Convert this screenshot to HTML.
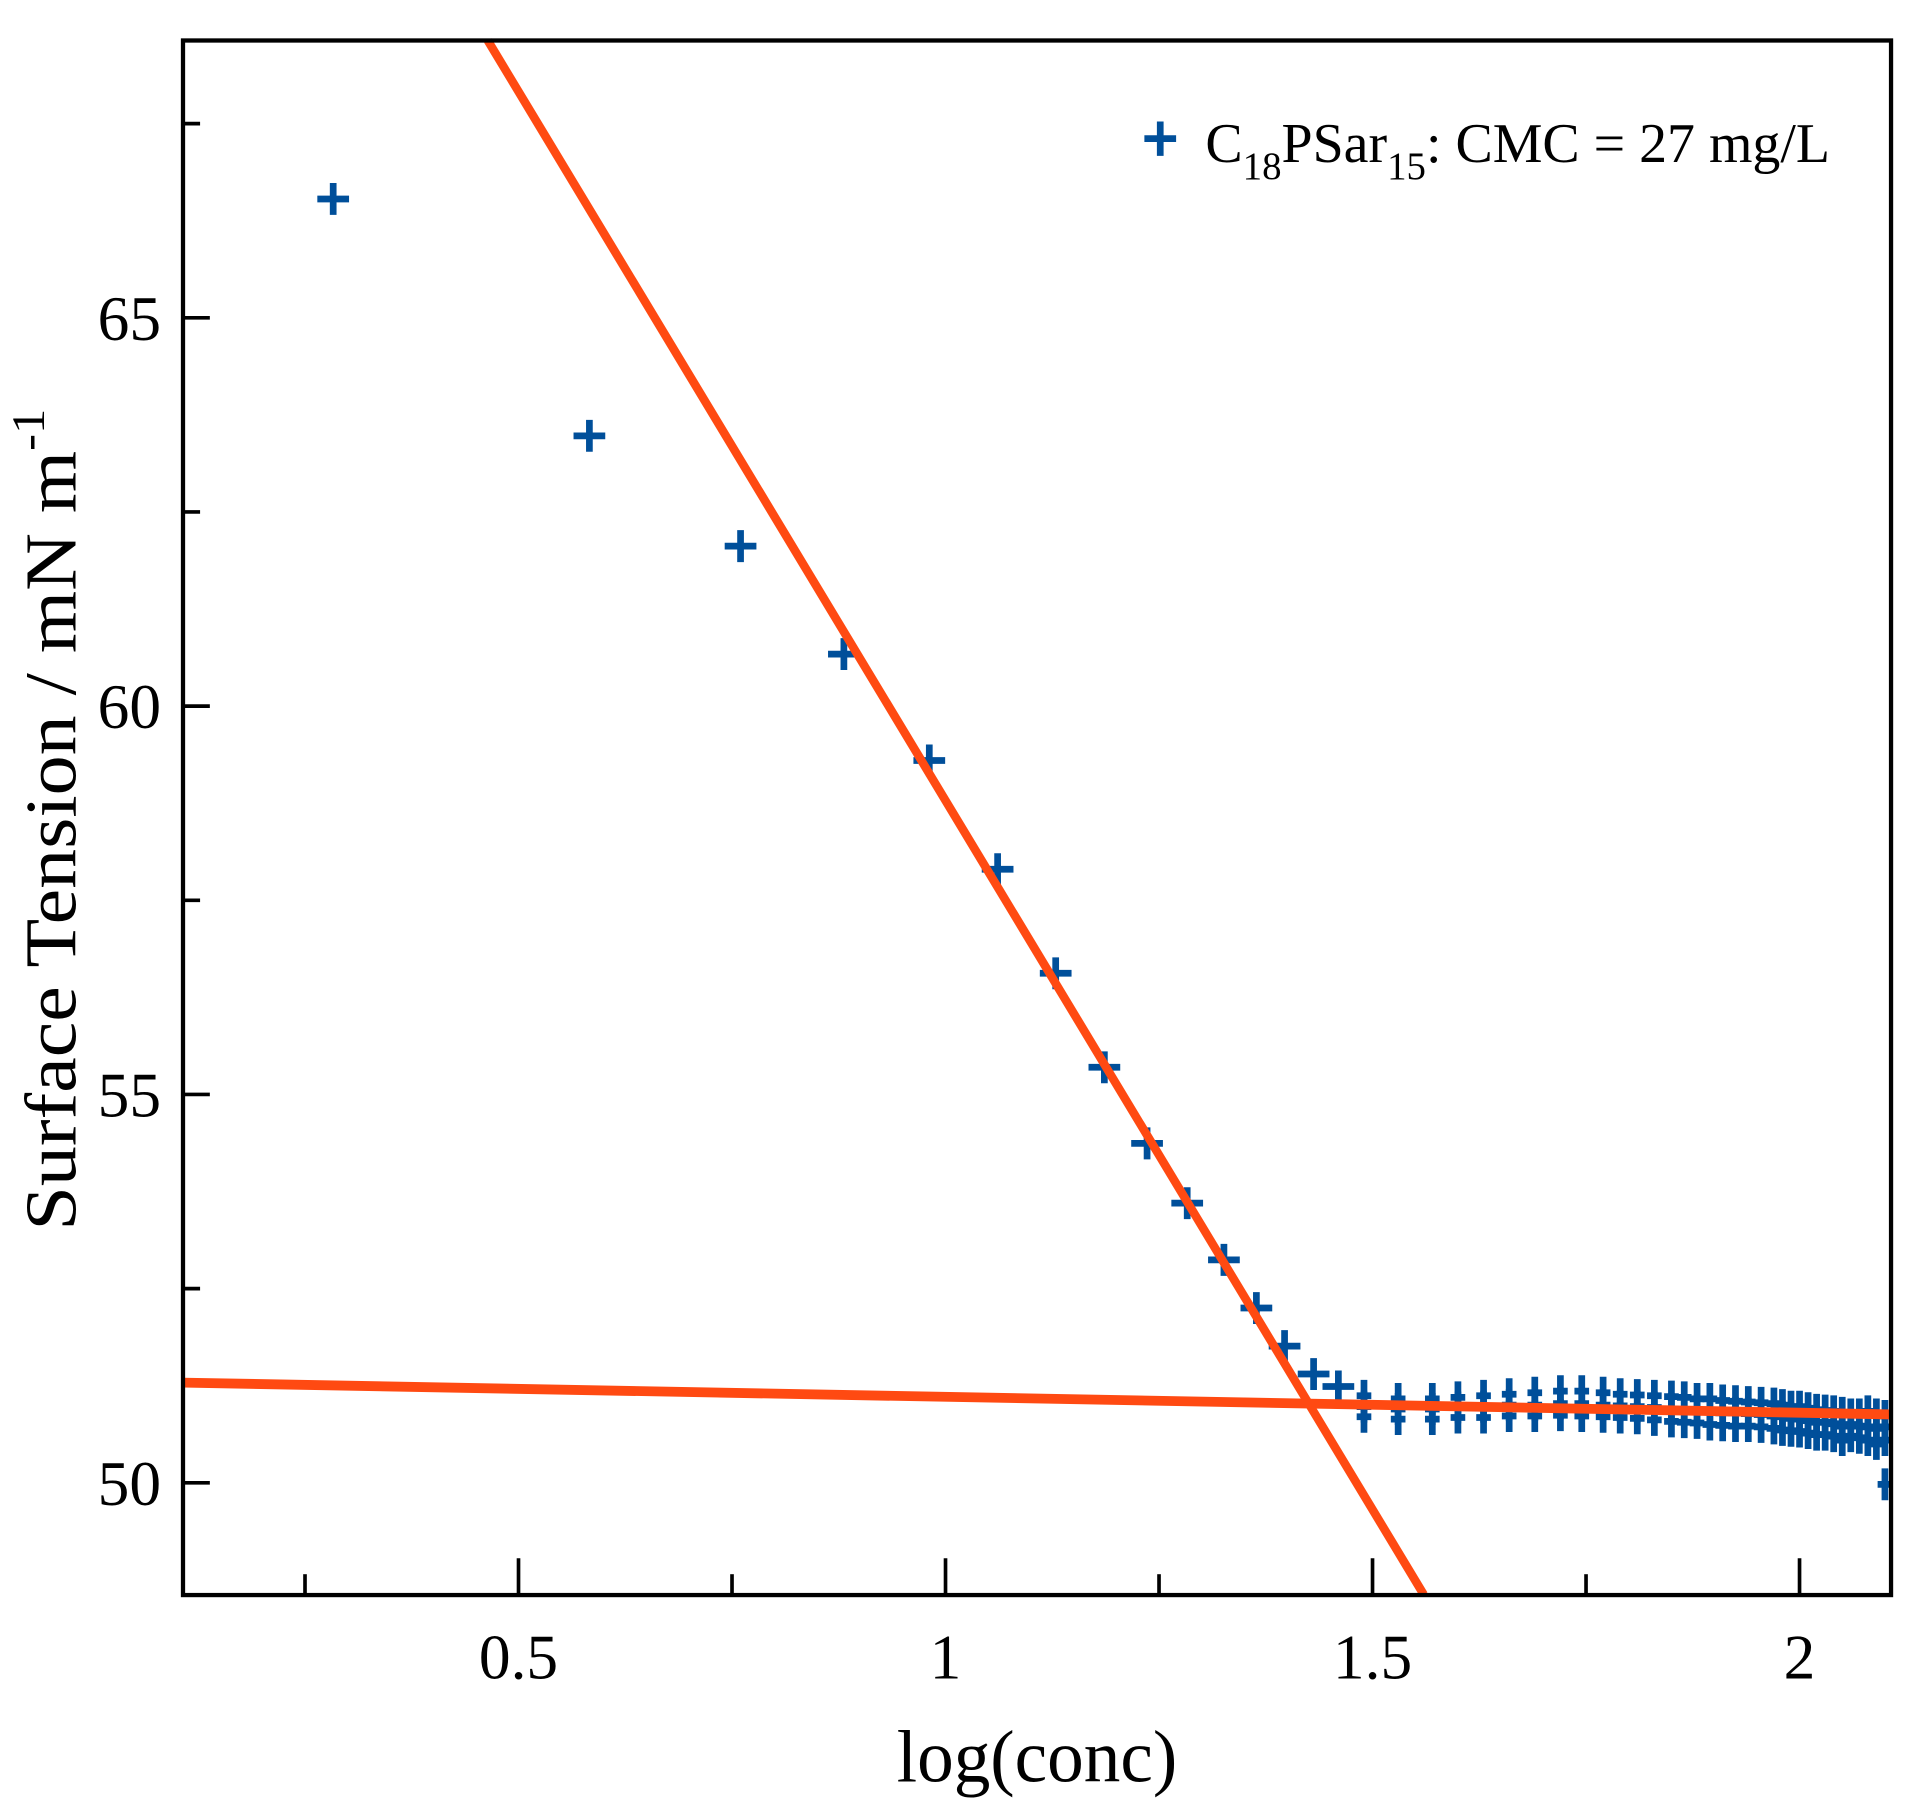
<!DOCTYPE html>
<html><head><meta charset="utf-8"><style>
html,body{margin:0;padding:0;background:#fff;}
svg{display:block;}
text{font-family:"Liberation Serif",serif;fill:#000;}
</style></head><body>
<svg id="chart" width="1913" height="1811" viewBox="0 0 1568 1476" preserveAspectRatio="none" xmlns="http://www.w3.org/2000/svg">
<rect width="1568" height="1476" fill="#fff"/>
<g id="ticks"></g>
<g id="points"></g>
<g id="fits"></g>
<rect x="150" y="33" width="1400" height="1267" fill="none" stroke="#000" stroke-width="3.5"/>
<g id="labels"></g>
<text x="850" y="1452" font-size="60" text-anchor="middle">log(conc)</text>
<text transform="translate(62,668) rotate(-90)" font-size="60" text-anchor="middle" textLength="670" lengthAdjust="spacingAndGlyphs">Surface Tension / mN m<tspan dy="-26" font-size="38">-1</tspan></text>
<g>
<path d="M938 113 H964 M951 99 V127" stroke="#004f9a" stroke-width="5.5"/>
<text x="988" y="132" font-size="46" textLength="512" lengthAdjust="spacingAndGlyphs">C<tspan dy="14" font-size="32">18</tspan><tspan dy="-14">PSar</tspan><tspan dy="14" font-size="32">15</tspan><tspan dy="-14">: CMC = 27 mg/L</tspan></text>
</g>
</svg>
<script>
const xTicksMajor=[0.5,1,1.5,2];
const xTickLabels=["0.5","1","1.5","2"];
const xTicksMinor=[0.25,0.75,1.25,1.75];
const yTicksMajor=[50,55,60,65];
const yTickLabels=["50","55","60","65"];
const yTicksMinor=[52.5,57.5,62.5,67.5];
const pointX=[0.283,0.583,0.76,0.881,0.981,1.061,1.129,1.186,1.236,1.283,1.326,1.364,1.397,1.431,1.46,
1.49,1.53,1.57,1.60,1.63,1.66,1.69,1.72,1.745,1.77,1.79,1.81,1.83,1.85,1.865,1.88,1.895,1.91,1.925,1.94,1.955,1.97,1.98,1.99,2.0,2.01,2.02,2.03,2.04,2.05,2.06,2.07,2.08,2.09,2.1,
1.49,1.53,1.57,1.60,1.63,1.66,1.69,1.72,1.745,1.77,1.79,1.81,1.83,1.85,1.865,1.88,1.895,1.91,1.925,1.94,1.955,1.97,1.98,1.99,2.0,2.01,2.02,2.03,2.04,2.05,2.06,2.07,2.08,2.09,2.1,
1.49,1.53,1.57,1.60,1.63,1.66,1.69,1.72,1.745,1.77,1.79,1.81,1.83,1.85,1.865,1.88,1.895,1.91,1.925,1.94,1.955,1.97,1.98,1.99,2.0,2.01,2.02,2.03,2.04,2.05,2.06,2.07,2.08,2.09,2.1,2.1];
const pointY=[66.53,63.48,62.06,60.67,59.3,57.9,56.56,55.35,54.37,53.6,52.87,52.25,51.76,51.4,51.24,
51.12,51.08,51.08,51.1,51.12,51.14,51.16,51.18,51.18,51.16,51.14,51.13,51.12,51.11,51.1,51.08,51.08,51.06,51.05,51.04,51.03,51.02,51.0,50.98,50.98,50.96,50.94,50.93,50.92,50.9,50.88,50.88,50.92,50.88,50.86,
50.98,50.95,50.95,50.97,50.98,51.0,51.0,51.02,51.02,51.0,50.99,50.98,50.97,50.95,50.94,50.93,50.92,50.9,50.9,50.89,50.88,50.86,50.85,50.83,50.82,50.8,50.78,50.78,50.76,50.73,50.75,50.73,50.72,50.7,50.72,
50.85,50.82,50.82,50.84,50.84,50.86,50.86,50.87,50.86,50.85,50.84,50.83,50.81,50.79,50.78,50.77,50.75,50.74,50.73,50.73,50.72,50.7,50.68,50.67,50.66,50.64,50.62,50.62,50.6,50.55,50.6,50.58,50.55,50.5,50.55,49.98];
const fitSteepX=[0.464,1.56];
const fitSteepY=[68.57,48.56];
const fitFlatX=[0.107,2.107];
const fitFlatY=[51.29,50.88];
const NS="http://www.w3.org/2000/svg";
const xs=v=>75+700*v;
const ys=v=>259+(65-v)*63.3;
function mk(tag,attrs,parent){const e=document.createElementNS(NS,tag);for(const k in attrs)e.setAttribute(k,attrs[k]);parent.appendChild(e);return e;}
const tk=document.getElementById('ticks');
const lb=document.getElementById('labels');
xTicksMajor.forEach((v,i)=>{const l=mk('line',{x1:xs(v),x2:xs(v),y1:1300,y2:1270,stroke:'#000','stroke-width':3},tk);


const t=mk('text',{x:xs(v),y:1368,'text-anchor':'middle','font-size':52},lb);t.textContent=xTickLabels[i];

});
xTicksMinor.forEach(v=>{const l=mk('line',{x1:xs(v),x2:xs(v),y1:1300,y2:1283,stroke:'#000','stroke-width':3},tk);

});
yTicksMajor.forEach((v,i)=>{const l=mk('line',{x1:150,x2:172,y1:ys(v),y2:ys(v),stroke:'#000','stroke-width':3},tk);


const t=mk('text',{x:132,y:ys(v)+18,'text-anchor':'end','font-size':52},lb);t.textContent=yTickLabels[i];

});
yTicksMinor.forEach(v=>{const l=mk('line',{x1:150,x2:164,y1:ys(v),y2:ys(v),stroke:'#000','stroke-width':3},tk);

});
const pg=document.getElementById('points');
pointX.forEach((v,i)=>{const x=xs(v),y=ys(pointY[i]);const a=v>1.48?6:13;
const p=mk('path',{d:`M${x-a} ${y} H${x+a} M${x} ${y-13} V${y+13}`,stroke:'#004f9a','stroke-width':5.5},pg);

});
const fg=document.getElementById('fits');
const f1=mk('line',{x1:xs(fitSteepX[0]),y1:ys(fitSteepY[0]),x2:xs(fitSteepX[1]),y2:ys(fitSteepY[1]),stroke:'#ff4a12','stroke-width':7},fg);


const f2=mk('line',{x1:xs(fitFlatX[0]),y1:ys(fitFlatY[0]),x2:xs(fitFlatX[1]),y2:ys(fitFlatY[1]),stroke:'#ff4a12','stroke-width':8},fg);


</script>
</body></html>
